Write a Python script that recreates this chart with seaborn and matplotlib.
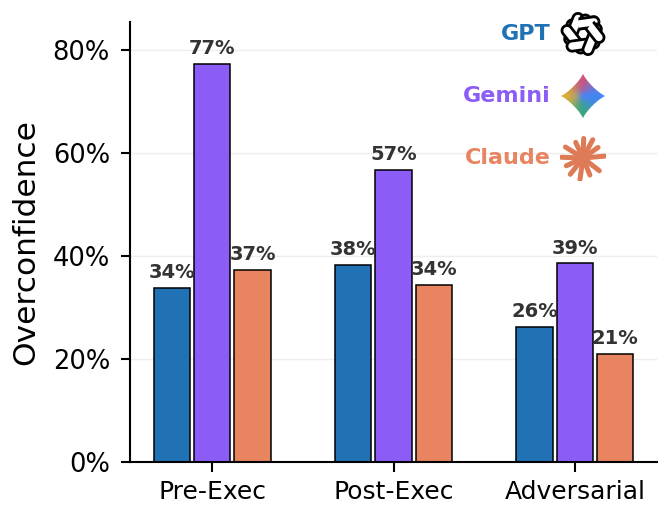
import numpy as np
import pandas as pd
import matplotlib
matplotlib.use("Agg")
import matplotlib.pyplot as plt
import seaborn as sns
from matplotlib.ticker import PercentFormatter
from matplotlib.patches import Polygon
from matplotlib.path import Path
from matplotlib.patches import PathPatch

# ---------------- data ----------------
conditions = ["Pre-Exec", "Post-Exec", "Adversarial"]
models = ["GPT", "Gemini", "Claude"]
gpt_vals = [33.8, 38.3, 26.2]
gemini_vals = [77.3, 56.7, 38.6]
claude_vals = [37.3, 34.4, 21.0]
colors = {"GPT": "#2171b5", "Gemini": "#8b5cf6", "Claude": "#e8845f"}

rows = []
for m, vals in zip(models, [gpt_vals, gemini_vals, claude_vals]):
    for c, v in zip(conditions, vals):
        rows.append({"condition": c, "model": m, "value": v})
df = pd.DataFrame(rows)

sns.set_style("ticks")
plt.rcParams["font.family"] = ["DejaVu Sans"]
plt.rcParams["text.color"] = "black"
plt.rcParams["axes.labelcolor"] = "black"
plt.rcParams["xtick.color"] = "black"
plt.rcParams["ytick.color"] = "black"
plt.rcParams["axes.edgecolor"] = "black"

fig = plt.figure(figsize=(6.72, 5.15), dpi=100)
ax = fig.add_axes([0.1935, 0.1029, 0.7842, 0.8544])

sns.barplot(data=df, x="condition", y="value", hue="model", order=conditions,
            hue_order=models, palette=colors, width=0.667, gap=0.1,
            edgecolor="black", linewidth=1.1, legend=False, ax=ax,
            errorbar=None, saturation=1)

for cont, vals in zip(ax.containers, [gpt_vals, gemini_vals, claude_vals]):
    ax.bar_label(cont, labels=[f"{v:.0f}%" for v in vals], padding=4,
                 fontsize=14, fontweight="bold", color="#333333")

ax.set_xlim(-0.453, 2.453)
ax.set_ylim(0, 85.4)
ax.set_yticks([0, 20, 40, 60, 80])
ax.yaxis.set_major_formatter(PercentFormatter(100, decimals=0))
ax.set_xlabel("")
ax.set_ylabel("Overconfidence", fontsize=22.5, labelpad=9)
ax.yaxis.grid(True, color="#eeeeee", lw=1)
ax.set_axisbelow(True)
for s in ["top", "right"]:
    ax.spines[s].set_visible(False)
for s in ["left", "bottom"]:
    ax.spines[s].set_linewidth(1.5)
ax.tick_params(axis="y", length=6.5, width=1.5, pad=8, labelsize=18.5)
ax.tick_params(axis="x", length=7, width=1.5, pad=6, labelsize=18)

# ---------------- legend (text + icons) ----------------
W, H = 672, 515
legend_y = [34, 96, 158]
for m, yy in zip(models, legend_y):
    fig.text(551 / W, 1 - yy / H, m, ha="right", va="center", fontsize=16,
             fontweight="bold", color=colors[m])

def icon_axes(cx, cy, size=46):
    a = fig.add_axes([(cx - size / 2) / W, 1 - (cy + size / 2) / H, size / W, size / H])
    a.set_xlim(-1, 1)
    a.set_ylim(-1, 1)
    a.axis("off")
    return a

# OpenAI-like knot: six interlaced capsules
a1 = icon_axes(583, 34)
def stadium(a_half, r, n=30):
    t1 = np.linspace(-np.pi / 2, np.pi / 2, n)
    t2 = np.linspace(np.pi / 2, 3 * np.pi / 2, n)
    return np.vstack([np.c_[a_half + r * np.cos(t1), r * np.sin(t1)],
                      np.c_[-a_half + r * np.cos(t2), r * np.sin(t2)]])
base = stadium(0.48, 0.22)
caps = []
for k in range(6):
    th = np.deg2rad(60 * k + 90)
    rot = th + np.pi / 2 + np.deg2rad(8)
    R = np.array([[np.cos(rot), -np.sin(rot)], [np.sin(rot), np.cos(rot)]])
    pts = base @ R.T + 0.46 * np.array([np.cos(th), np.sin(th)])
    caps.append(pts)
    a1.add_patch(Polygon(pts, closed=True, facecolor="white", edgecolor="black",
                         lw=2.0, zorder=2 + k))
half = Polygon(caps[0], closed=True, facecolor="white", edgecolor="black", lw=2.0, zorder=10)
a1.add_patch(half)
clip = Polygon([[0, 0], [1, 1.2], [-0.2, 1.2], [-0.2, 0]], closed=True, transform=a1.transData)
half.set_clip_path(clip)

# Gemini-like gradient star
a2 = icon_axes(583, 96)
t = np.linspace(0, 2 * np.pi, 400)
p = 2.45
sx = np.sign(np.cos(t)) * np.abs(np.cos(t)) ** p * 0.97
sy = np.sign(np.sin(t)) * np.abs(np.sin(t)) ** p * 0.97
star = PathPatch(Path(np.c_[sx, sy]), facecolor="none", edgecolor="none")
a2.add_patch(star)
gx, gy = np.meshgrid(np.linspace(-1, 1, 200), np.linspace(1, -1, 200))
cols = {"top": np.array([0.93, 0.28, 0.38]), "right": np.array([0.26, 0.52, 0.96]),
        "bottom": np.array([0.20, 0.68, 0.40]), "left": np.array([0.98, 0.72, 0.05]),
        "center": np.array([0.30, 0.52, 0.95])}
w = {"top": np.clip(gy, 0, None) ** 1.5, "right": np.clip(gx, 0, None) ** 1.2 * 1.3,
     "bottom": np.clip(-gy, 0, None) ** 1.5, "left": np.clip(-gx, 0, None) ** 1.5,
     "center": 0.15 * np.ones_like(gx)}
tot = sum(w.values())
img = sum(w[k][..., None] * cols[k] for k in w) / tot[..., None]
im = a2.imshow(img, extent=[-1, 1, -1, 1], origin="upper", zorder=1)
im.set_clip_path(star)

# Claude-like starburst
a3 = icon_axes(583, 158)
ray_angles = [5, 35, 62, 88, 115, 148, 178, 205, 232, 262, 292, 322]
ray_lengths = [0.95, 0.8, 0.9, 0.85, 0.75, 0.9, 0.95, 0.8, 0.9, 0.95, 0.8, 0.9]
for ang, L in zip(ray_angles, ray_lengths):
    r = np.deg2rad(ang)
    a3.plot([0.1 * np.cos(r), L * np.cos(r)], [0.1 * np.sin(r), L * np.sin(r)],
            color="#df7a56", lw=3.6, solid_capstyle="round")
a3.plot([0], [0], "o", color="#df7a56", ms=5)

fig.savefig("out.png", dpi=100)
